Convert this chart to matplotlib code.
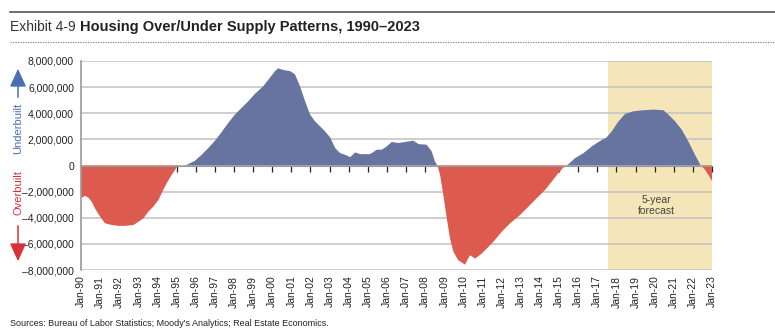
import matplotlib
matplotlib.use("Agg")
import matplotlib.pyplot as plt
import numpy as np

plt.rcParams['font.family'] = ['Liberation Sans Narrow', 'Liberation Sans', 'DejaVu Sans']

# valeurs (année décimale, millions de logements)
annees = [1990.0, 1990.21, 1990.38, 1990.56, 1990.73, 1991.0, 1991.26, 1991.6, 1991.95,
          1992.3, 1992.74, 1993.0, 1993.26, 1993.52, 1993.78, 1994.05, 1994.26, 1994.48,
          1994.74, 1995.0, 1995.18, 1995.53, 1995.96, 1996.31, 1996.66, 1997.01, 1997.36,
          1997.7, 1998.05, 1998.4, 1998.75, 1999.1, 1999.54, 1999.88, 2000.15, 2000.32,
          2000.58, 2000.93, 2001.19, 2001.45, 2001.72, 2001.98, 2002.24, 2002.5, 2002.76,
          2003.03, 2003.29, 2003.55, 2003.81, 2004.08, 2004.34, 2004.6, 2004.86, 2005.12,
          2005.47, 2005.73, 2005.99, 2006.25, 2006.6, 2006.95, 2007.38, 2007.65, 2008.08,
          2008.34, 2008.51, 2008.64, 2008.78, 2008.95, 2009.13, 2009.3, 2009.48, 2009.73,
          2010.08, 2010.34, 2010.61, 2010.96, 2011.22, 2011.56, 2012.0, 2012.44, 2012.96,
          2013.4, 2013.83, 2014.27, 2014.62, 2014.96, 2015.23, 2015.49, 2015.84, 2016.28,
          2016.71, 2017.06, 2017.49, 2017.76, 2018.11, 2018.46, 2018.89, 2019.41, 2019.93,
          2020.46, 2020.72, 2021.07, 2021.42, 2021.76, 2022.11, 2022.41, 2022.64, 2022.81,
          2023.0]
valeurs_m = [-2.51, -2.33, -2.45, -2.77, -3.28, -3.92, -4.43, -4.55, -4.62,
             -4.62, -4.56, -4.31, -4.05, -3.54, -3.15, -2.64, -2.0, -1.36,
             -0.72, -0.15, 0.0, 0.05, 0.36, 0.82, 1.34, 1.9, 2.57,
             3.26, 3.9, 4.41, 4.92, 5.49, 6.08, 6.72, 7.23, 7.44,
             7.31, 7.23, 6.98, 6.08, 4.92, 3.9, 3.38, 3.0, 2.62,
             2.15, 1.34, 0.95, 0.82, 0.64, 1.0, 0.87, 0.87, 0.87,
             1.21, 1.21, 1.46, 1.8, 1.72, 1.8, 1.9, 1.64, 1.59,
             1.08, 0.31, 0.0, -0.72, -2.26, -4.05, -5.59, -6.62, -7.25,
             -7.59, -6.87, -7.13, -6.74, -6.36, -5.85, -5.08, -4.43, -3.79,
             -3.15, -2.51, -1.87, -1.23, -0.59, -0.15, 0.1, 0.56, 0.95,
             1.46, 1.8, 2.15, 2.62, 3.38, 3.95, 4.15, 4.23, 4.28,
             4.23, 3.9, 3.38, 2.74, 1.85, 0.82, 0.0, -0.33, -0.72,
             -1.18]

debut_prevision = 2017.58
fin_prevision = 2023.0
etiquettes_x = ["Jan-%02d" % (a % 100) for a in range(1990, 2024)]
graduations_y = [-8e6, -6e6, -4e6, -2e6, 0, 2e6, 4e6, 6e6, 8e6]

x = np.array(annees)
y = np.array(valeurs_m) * 1e6

bleu = "#6874a0"
rouge = "#dc5a4e"

fig = plt.figure(figsize=(7.75, 3.34), dpi=100)
ax = fig.add_axes([81 / 775, 1 - 270 / 334, 631 / 775, 209 / 334])

# zone de prévision
ax.axvspan(debut_prevision, fin_prevision, color="#f4e6b8", lw=0, zorder=0)
for g in graduations_y:
    ax.axhline(g, color="#c6c6c6", lw=1.2, zorder=1)

ax.fill_between(x, y, 0, where=y >= 0, interpolate=True, color=bleu, lw=0, zorder=2)
ax.fill_between(x, y, 0, where=y <= 0, interpolate=True, color=rouge, lw=0, zorder=2)

ax.set_xlim(1990, 2023)
ax.set_ylim(-8e6, 8e6)
ax.set_yticks(graduations_y)
ax.set_yticklabels([("{:,.0f}".format(g)).replace("-", "\u2013") for g in graduations_y])
ax.tick_params(axis="y", length=0, labelsize=7.5, pad=5, colors="#222222")

# axe des catégories sur la ligne zéro
ax.spines["bottom"].set_position(("data", 0))
ax.spines["bottom"].set_color("#9a9a9a")
ax.spines["bottom"].set_zorder(3)
ax.set_xticks(range(1990, 2024))
ax.tick_params(axis="x", length=4, width=0.9, color="#222222", labelbottom=False, direction="out")
for s in ["top", "right"]:
    ax.spines[s].set_visible(False)
ax.spines["left"].set_color("#9a9a9a")
ax.spines["left"].set_linewidth(1.2)

sec = ax.secondary_xaxis(0)
sec.set_xticks(range(1990, 2024))
sec.set_xticklabels(etiquettes_x, rotation=90, fontsize=7.5, color="#222222")
sec.tick_params(length=0, pad=4)
sec.spines["bottom"].set_visible(False)

ax.text(2020.1, -3.07e6, "5-year\nforecast", ha="center", va="center", fontsize=7.5,
        color="#444444", linespacing=1.15)

# titre
fig.add_artist(plt.Line2D([10 / 775, 1], [1 - 12 / 334] * 2, color="#555555", lw=1.2))
fig.add_artist(plt.Line2D([10 / 775, 1], [1 - 42 / 334] * 2, color="#888888", lw=0.9, ls=(0, (1, 1))))
fig.text(10 / 775, 1 - 27 / 334, "Exhibit 4-9", fontsize=10, color="#333333", va="center",
         family=["Liberation Sans Narrow", "Liberation Sans", "DejaVu Sans"])
fig.text(80 / 775, 1 - 27 / 334, "Housing Over/Under Supply Patterns, 1990\u20132023", fontsize=10.5,
         fontweight="bold", color="#222222", va="center", family=["Liberation Sans", "DejaVu Sans"])

# flèches sous/sur-construit
fig.text(18 / 775, 1 - 128 / 334, "Underbuilt", rotation=90, ha="center", va="center",
         fontsize=8, color="#4a6fb5")
fig.text(18 / 775, 1 - 193 / 334, "Overbuilt", rotation=90, ha="center", va="center",
         fontsize=8, color="#d8313b")
ax.annotate("", xy=(18 / 775, 1 - 66 / 334), xytext=(18 / 775, 1 - 100 / 334),
            xycoords="figure fraction", textcoords="figure fraction",
            arrowprops=dict(arrowstyle="-|>,head_length=1.1,head_width=0.5", color="#4a6fb5", lw=1.1))
ax.annotate("", xy=(18 / 775, 1 - 264 / 334), xytext=(18 / 775, 1 - 223 / 334),
            xycoords="figure fraction", textcoords="figure fraction",
            arrowprops=dict(arrowstyle="-|>,head_length=1.1,head_width=0.5", color="#d8313b", lw=1.1))

fig.text(10 / 775, 1 - 324 / 334, "Sources: Bureau of Labor Statistics; Moody's Analytics; Real Estate Economics.",
         fontsize=6.5, color="#222222", va="center", family=["Liberation Sans", "DejaVu Sans"])

fig.savefig("out.png", dpi=100)
